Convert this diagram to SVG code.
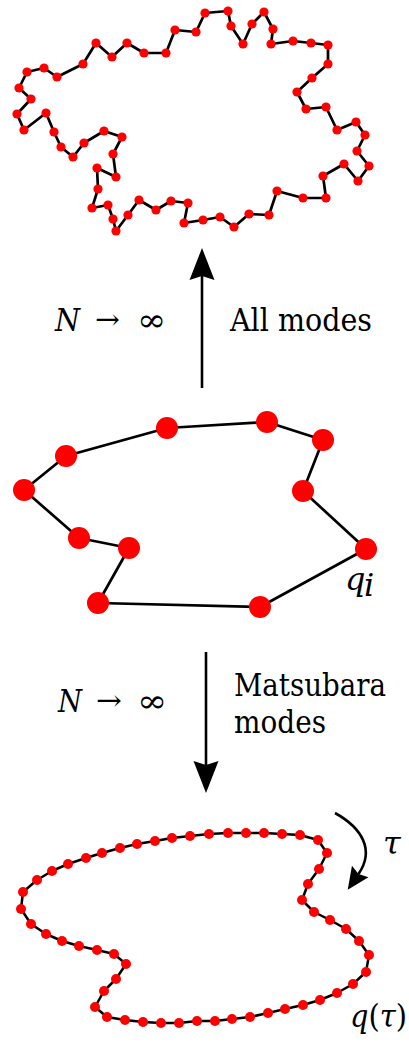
<svg xmlns="http://www.w3.org/2000/svg" width="409" height="1045" viewBox="0 0 409 1045">
<style>
.chain{fill:none;stroke:#000;stroke-linejoin:round;stroke-linecap:round}
.bead{fill:#f00}
.lbl{font-size:32px;fill:#000}
.it{font-style:italic}
.sym{font-size:28px;fill:#000}
.conn{fill:none;stroke:#000;stroke-width:2.6}
</style>
<defs>
<marker id="head" markerUnits="userSpaceOnUse" markerWidth="40" markerHeight="30" refX="4" refY="12.5" orient="auto" viewBox="0 0 40 30" overflow="visible">
<path d="M0,0 L32,12.5 L0,25 L4,12.5 z" fill="#000"/>
</marker>
<marker id="headSmall" markerUnits="userSpaceOnUse" markerWidth="30" markerHeight="24" refX="3" refY="10" orient="auto" viewBox="0 0 30 24" overflow="visible">
<path d="M0,0 L22,10 L0,20 L3,10 z" fill="#000"/>
</marker>
</defs>
<rect width="409" height="1045" fill="#fff"/>

<g id="ring-all-modes">
<polygon class="chain" stroke-width="2.7" points="17,114 31,99 19,88 27,72 44,68 57,77 83,64 96,43 112,57 127,43 144,53 166,53 175,30 196,32 205,13 228,11 231,26 243,44 252,24 264,12 273,29 271,44 293,41 311,43 328,45 328,64 312,78 297,92 306,109 326,107 337,130 356,122 365,135 357,151 369,166 358,181 344,164 323,176 326,198 303,198 277,191 269,215 249,214 234,227 220,217 203,220 184,223 188,203 171,201 156,210 139,200 128,215 116,231 113,219 108,205 92,208 98,189 97,168 116,177 113,154 122,137 104,131 84,143 73,157 61,147 54,132 46,113 24,130"/>
<g class="bead">
<circle cx="17" cy="114" r="4.6"/><circle cx="31" cy="99" r="4.6"/><circle cx="19" cy="88" r="4.6"/><circle cx="27" cy="72" r="4.6"/><circle cx="44" cy="68" r="4.6"/><circle cx="57" cy="77" r="4.6"/><circle cx="83" cy="64" r="4.6"/><circle cx="96" cy="43" r="4.6"/><circle cx="112" cy="57" r="4.6"/><circle cx="127" cy="43" r="4.6"/><circle cx="144" cy="53" r="4.6"/><circle cx="166" cy="53" r="4.6"/><circle cx="175" cy="30" r="4.6"/><circle cx="196" cy="32" r="4.6"/><circle cx="205" cy="13" r="4.6"/><circle cx="228" cy="11" r="4.6"/><circle cx="231" cy="26" r="4.6"/><circle cx="243" cy="44" r="4.6"/><circle cx="252" cy="24" r="4.6"/><circle cx="264" cy="12" r="4.6"/><circle cx="273" cy="29" r="4.6"/><circle cx="271" cy="44" r="4.6"/><circle cx="293" cy="41" r="4.6"/><circle cx="311" cy="43" r="4.6"/><circle cx="328" cy="45" r="4.6"/><circle cx="328" cy="64" r="4.6"/><circle cx="312" cy="78" r="4.6"/><circle cx="297" cy="92" r="4.6"/><circle cx="306" cy="109" r="4.6"/><circle cx="326" cy="107" r="4.6"/><circle cx="337" cy="130" r="4.6"/><circle cx="356" cy="122" r="4.6"/><circle cx="365" cy="135" r="4.6"/><circle cx="357" cy="151" r="4.6"/><circle cx="369" cy="166" r="4.6"/><circle cx="358" cy="181" r="4.6"/><circle cx="344" cy="164" r="4.6"/><circle cx="323" cy="176" r="4.6"/><circle cx="326" cy="198" r="4.6"/><circle cx="303" cy="198" r="4.6"/><circle cx="277" cy="191" r="4.6"/><circle cx="269" cy="215" r="4.6"/><circle cx="249" cy="214" r="4.6"/><circle cx="234" cy="227" r="4.6"/><circle cx="220" cy="217" r="4.6"/><circle cx="203" cy="220" r="4.6"/><circle cx="184" cy="223" r="4.6"/><circle cx="188" cy="203" r="4.6"/><circle cx="171" cy="201" r="4.6"/><circle cx="156" cy="210" r="4.6"/><circle cx="139" cy="200" r="4.6"/><circle cx="128" cy="215" r="4.6"/><circle cx="116" cy="231" r="4.6"/><circle cx="113" cy="219" r="4.6"/><circle cx="108" cy="205" r="4.6"/><circle cx="92" cy="208" r="4.6"/><circle cx="98" cy="189" r="4.6"/><circle cx="97" cy="168" r="4.6"/><circle cx="116" cy="177" r="4.6"/><circle cx="113" cy="154" r="4.6"/><circle cx="122" cy="137" r="4.6"/><circle cx="104" cy="131" r="4.6"/><circle cx="84" cy="143" r="4.6"/><circle cx="73" cy="157" r="4.6"/><circle cx="61" cy="147" r="4.6"/><circle cx="54" cy="132" r="4.6"/><circle cx="46" cy="113" r="4.6"/><circle cx="24" cy="130" r="4.6"/>
</g>
</g>

<g id="ring-discrete">
<polygon class="chain" stroke-width="2.7" points="167,428 267,422 323,440 303,491 366,549 260,607 98,603 129,548 79,538 24,490 66,456"/>
<g class="bead">
<circle cx="167" cy="428" r="11"/><circle cx="267" cy="422" r="11"/><circle cx="323" cy="440" r="11"/><circle cx="303" cy="491" r="11"/><circle cx="366" cy="549" r="11"/><circle cx="260" cy="607" r="11"/><circle cx="98" cy="603" r="11"/><circle cx="129" cy="548" r="11"/><circle cx="79" cy="538" r="11"/><circle cx="24" cy="490" r="11"/><circle cx="66" cy="456" r="11"/>
</g>
<g font-family="DejaVu Serif">
<text class="lbl it" x="345" y="590" font-size="26">q</text><text class="lbl it" x="364" y="596" font-size="18">i</text>
</g>
</g>

<g id="ring-matsubara">
<polygon class="chain" stroke-width="2.5" points="190,836 209,834 228,833 246,833 264,833 282,834 300,835 318,840 327,853 319,869 308,884 302,900 314,912 330,920 346,929 359,941 369,955 366,972 353,984 337,993 320,1000 303,1005 285,1009 268,1013 250,1017 232,1019 215,1021 197,1021 179,1023 161,1023 143,1022 125,1020 107,1017 95,1007 104,991 116,979 126,964 114,954 97,950 79,946 62,941 46,934 31,924 21,909 23,892 37,880 52,871 68,864 86,858 102,853 120,848 137,844 155,841 172,838"/>
<g class="bead">
<circle cx="190" cy="836" r="5"/><circle cx="209" cy="834" r="5"/><circle cx="228" cy="833" r="5"/><circle cx="246" cy="833" r="5"/><circle cx="264" cy="833" r="5"/><circle cx="282" cy="834" r="5"/><circle cx="300" cy="835" r="5"/><circle cx="318" cy="840" r="5"/><circle cx="327" cy="853" r="5"/><circle cx="319" cy="869" r="5"/><circle cx="308" cy="884" r="5"/><circle cx="302" cy="900" r="5"/><circle cx="314" cy="912" r="5"/><circle cx="330" cy="920" r="5"/><circle cx="346" cy="929" r="5"/><circle cx="359" cy="941" r="5"/><circle cx="369" cy="955" r="5"/><circle cx="366" cy="972" r="5"/><circle cx="353" cy="984" r="5"/><circle cx="337" cy="993" r="5"/><circle cx="320" cy="1000" r="5"/><circle cx="303" cy="1005" r="5"/><circle cx="285" cy="1009" r="5"/><circle cx="268" cy="1013" r="5"/><circle cx="250" cy="1017" r="5"/><circle cx="232" cy="1019" r="5"/><circle cx="215" cy="1021" r="5"/><circle cx="197" cy="1021" r="5"/><circle cx="179" cy="1023" r="5"/><circle cx="161" cy="1023" r="5"/><circle cx="143" cy="1022" r="5"/><circle cx="125" cy="1020" r="5"/><circle cx="107" cy="1017" r="5"/><circle cx="95" cy="1007" r="5"/><circle cx="104" cy="991" r="5"/><circle cx="116" cy="979" r="5"/><circle cx="126" cy="964" r="5"/><circle cx="114" cy="954" r="5"/><circle cx="97" cy="950" r="5"/><circle cx="79" cy="946" r="5"/><circle cx="62" cy="941" r="5"/><circle cx="46" cy="934" r="5"/><circle cx="31" cy="924" r="5"/><circle cx="21" cy="909" r="5"/><circle cx="23" cy="892" r="5"/><circle cx="37" cy="880" r="5"/><circle cx="52" cy="871" r="5"/><circle cx="68" cy="864" r="5"/><circle cx="86" cy="858" r="5"/><circle cx="102" cy="853" r="5"/><circle cx="120" cy="848" r="5"/><circle cx="137" cy="844" r="5"/><circle cx="155" cy="841" r="5"/><circle cx="172" cy="838" r="5"/>
</g>
<path class="conn" d="M335,813 C362,828 375,850 358.5,874" marker-end="url(#headSmall)"/>
<g font-family="DejaVu Serif">
<text class="lbl it" x="383" y="854" font-size="28">τ</text>
<text class="lbl" x="350" y="1027" font-size="28" textLength="57" lengthAdjust="spacingAndGlyphs"><tspan class="it">q</tspan>(<tspan class="it">τ</tspan>)</text>
</g>
</g>

<g id="connectors">
<line class="conn" x1="202" y1="388" x2="202" y2="276" marker-end="url(#head)"/>
<line class="conn" x1="206" y1="652" x2="206" y2="765" marker-end="url(#head)"/>
</g>

<g id="labels" font-family="DejaVu Serif">
<text class="lbl it" x="55" y="331" font-size="29" textLength="25" lengthAdjust="spacingAndGlyphs">N</text>
<text class="sym" x="95" y="329" textLength="25" lengthAdjust="spacingAndGlyphs">→</text>
<text class="lbl" x="137" y="331" font-size="29" textLength="29" lengthAdjust="spacingAndGlyphs">∞</text>
<text class="lbl" x="230" y="331" font-size="29" textLength="142" lengthAdjust="spacingAndGlyphs">All modes</text>
<text class="lbl it" x="58" y="712" font-size="29" textLength="24" lengthAdjust="spacingAndGlyphs">N</text>
<text class="sym" x="96" y="710" textLength="26" lengthAdjust="spacingAndGlyphs">→</text>
<text class="lbl" x="137" y="712" font-size="29" textLength="30" lengthAdjust="spacingAndGlyphs">∞</text>
<text class="lbl" x="234" y="696" font-size="29" textLength="152" lengthAdjust="spacingAndGlyphs">Matsubara</text>
<text class="lbl" x="234" y="733" font-size="29" textLength="92" lengthAdjust="spacingAndGlyphs">modes</text>
</g>
</svg>
